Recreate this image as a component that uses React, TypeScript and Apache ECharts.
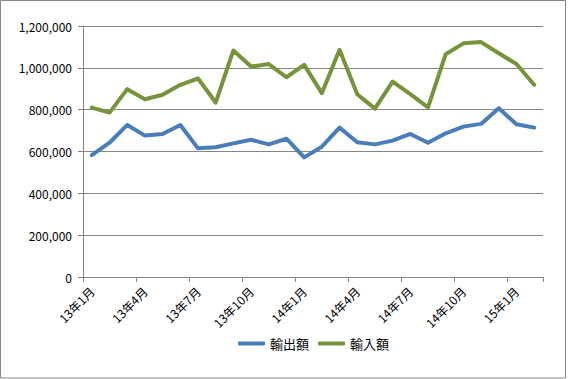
import React, { useEffect, useRef } from "react";
import * as echarts from "echarts";

const categories: string[] = [
  "13年1月", "13年2月", "13年3月", "13年4月", "13年5月", "13年6月",
  "13年7月", "13年8月", "13年9月", "13年10月", "13年11月", "13年12月",
  "14年1月", "14年2月", "14年3月", "14年4月", "14年5月", "14年6月",
  "14年7月", "14年8月", "14年9月", "14年10月", "14年11月", "14年12月",
  "15年1月", "15年2月",
];

const exportValues: number[] = [
  583000, 642000, 727000, 676000, 684000, 727000,
  615000, 620000, 639000, 656000, 634000, 661000,
  572000, 623000, 714000, 644000, 634000, 652000,
  684000, 642000, 687000, 719000, 732000, 807000,
  730000, 714000,
];

const importValues: number[] = [
  810000, 786000, 898000, 850000, 871000, 919000,
  949000, 834000, 1083000, 1006000, 1018000, 955000,
  1014000, 879000, 1086000, 874000, 805000, 934000,
  874000, 811000, 1065000, 1117000, 1123000, 1070000,
  1018000, 919000,
];

const seriesNames: string[] = ["輸出額", "輸入額"];
const yTicks = { min: 0, max: 1200000, interval: 200000 };

export default function App() {
  const ref = useRef<HTMLDivElement>(null);
  useEffect(() => {
    if (!ref.current) return;
    const chart = echarts.init(ref.current, undefined, { renderer: "svg" });
    const font = "'Noto Sans CJK JP', 'Noto Sans', sans-serif";
    chart.setOption({
      animation: false,
      backgroundColor: "#ffffff",
      textStyle: { fontFamily: font },
      graphic: [
        {
          type: "rect",
          shape: { x: 0.5, y: 0.5, width: 565, height: 377.5 },
          style: { fill: "none", stroke: "#868686", lineWidth: 1 },
          silent: true,
        },
      ],
      grid: { left: 83, right: 25, top: 26, bottom: 102, containLabel: false },
      legend: {
        data: seriesNames,
        left: 233,
        top: 332,
        icon: "roundRect",
        itemWidth: 27,
        itemHeight: 4,
        itemGap: 9,
        textStyle: { fontSize: 13, color: "#000", fontFamily: font },
      },
      xAxis: {
        type: "category",
        data: categories,
        boundaryGap: true,
        axisLine: { show: true, lineStyle: { color: "#868686", width: 1 } },
        axisTick: { show: true, interval: 2, length: 5, lineStyle: { color: "#868686" } },
        axisLabel: {
          interval: 2,
          rotate: 45,
          margin: 12,
          fontSize: 12,
          color: "#000",
          fontFamily: font,
        },
        splitLine: { show: false },
      },
      yAxis: {
        type: "value",
        min: yTicks.min,
        max: yTicks.max,
        interval: yTicks.interval,
        axisLine: { show: true, lineStyle: { color: "#868686", width: 1 } },
        axisTick: { show: true, length: 5, lineStyle: { color: "#868686" } },
        axisLabel: {
          fontSize: 12,
          color: "#000",
          margin: 11,
          fontFamily: font,
          formatter: (v: number) => v.toLocaleString("en-US"),
        },
        splitLine: { show: true, lineStyle: { color: "#868686", width: 1 } },
      },
      series: [
        {
          name: seriesNames[0],
          type: "line",
          data: exportValues,
          showSymbol: false,
          symbol: "none",
          lineStyle: { color: "#4A7EBB", width: 4, join: "round", cap: "round" },
          itemStyle: { color: "#4A7EBB" },
        },
        {
          name: seriesNames[1],
          type: "line",
          data: importValues,
          showSymbol: false,
          symbol: "none",
          lineStyle: { color: "#77933C", width: 4, join: "round", cap: "round" },
          itemStyle: { color: "#77933C" },
        },
      ],
    });
    return () => chart.dispose();
  }, []);
  return (
    <div
      ref={ref}
      style={{ position: "fixed", left: 0, top: 0, width: 568, height: 379 }}
    />
  );
}
